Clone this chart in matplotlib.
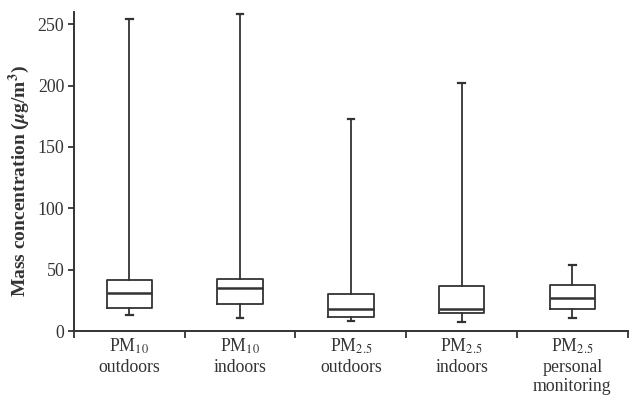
import numpy as np
import matplotlib
matplotlib.use('Agg')
import matplotlib.pyplot as plt

#----------values (min, Q1, median, Q3, max)----------------------------------
labels = ['PM$_{10}$\noutdoors', 'PM$_{10}$\nindoors', 'PM$_{2.5}$\noutdoors',
          'PM$_{2.5}$\nindoors', 'PM$_{2.5}$\npersonal\nmonitoring']
mins = [13, 11, 8.4, 7.6, 10.8]
q1s = [18.9, 21.9, 11.1, 14.4, 17.6]
medians = [30.6, 35.2, 17.9, 17.9, 27]
q3s = [41.4, 42.2, 29.8, 36.6, 37.4]
maxs = [254.5, 258.3, 172.8, 202.5, 54.2]
yticks = [0, 50, 100, 150, 200, 250]

plt.rcParams['font.family'] = ['Liberation Serif', 'DejaVu Serif']
plt.rcParams['mathtext.fontset'] = 'stix'
ink = '#333333'

stats = []
for i in range(len(labels)):
    stats.append({'whislo': mins[i], 'q1': q1s[i], 'med': medians[i],
                  'q3': q3s[i], 'whishi': maxs[i], 'fliers': []})

fig = plt.figure(figsize=(6.29, 3.99), dpi=100)
ax = fig.add_axes([0.1176, 0.1704, 0.8804, 0.7996])

pos = np.arange(1, len(labels) + 1)
ax.bxp(stats, positions=pos, widths=0.41, showfliers=False, capwidths=0.06,
       boxprops=dict(color=ink, linewidth=1.3),
       whiskerprops=dict(color=ink, linewidth=1.3),
       capprops=dict(color=ink, linewidth=1.6),
       medianprops=dict(color=ink, linewidth=1.8))

ax.set_xlim(0.5, len(labels) + 0.5)
ax.set_ylim(0, 260)
ax.set_yticks(yticks)
ax.set_xticks(np.arange(0.5, len(labels) + 1, 1.0))
ax.set_xticklabels([])
ax.set_xticks(pos, minor=True)
ax.set_xticklabels(labels, minor=True, fontsize=12.8, color=ink, linespacing=1.2)
ax.tick_params(axis='x', which='major', length=5, width=1.3, color=ink, direction='out')
ax.tick_params(axis='x', which='minor', length=0, pad=4)
ax.tick_params(axis='y', length=4, width=1.3, color=ink, labelsize=12.8, labelcolor=ink, pad=3)

for side in ['top', 'right']:
    ax.spines[side].set_visible(False)
for side in ['left', 'bottom']:
    ax.spines[side].set_color(ink)
    ax.spines[side].set_linewidth(1.4)

ax.set_ylabel(r'Mass concentration ($\boldsymbol{\mu}$g/m$^{\mathbf{3}}$)',
              fontsize=14, fontweight='bold', color=ink)
ax.yaxis.set_label_coords(-0.076, 0.47)

plt.savefig('out.png', dpi=100)
